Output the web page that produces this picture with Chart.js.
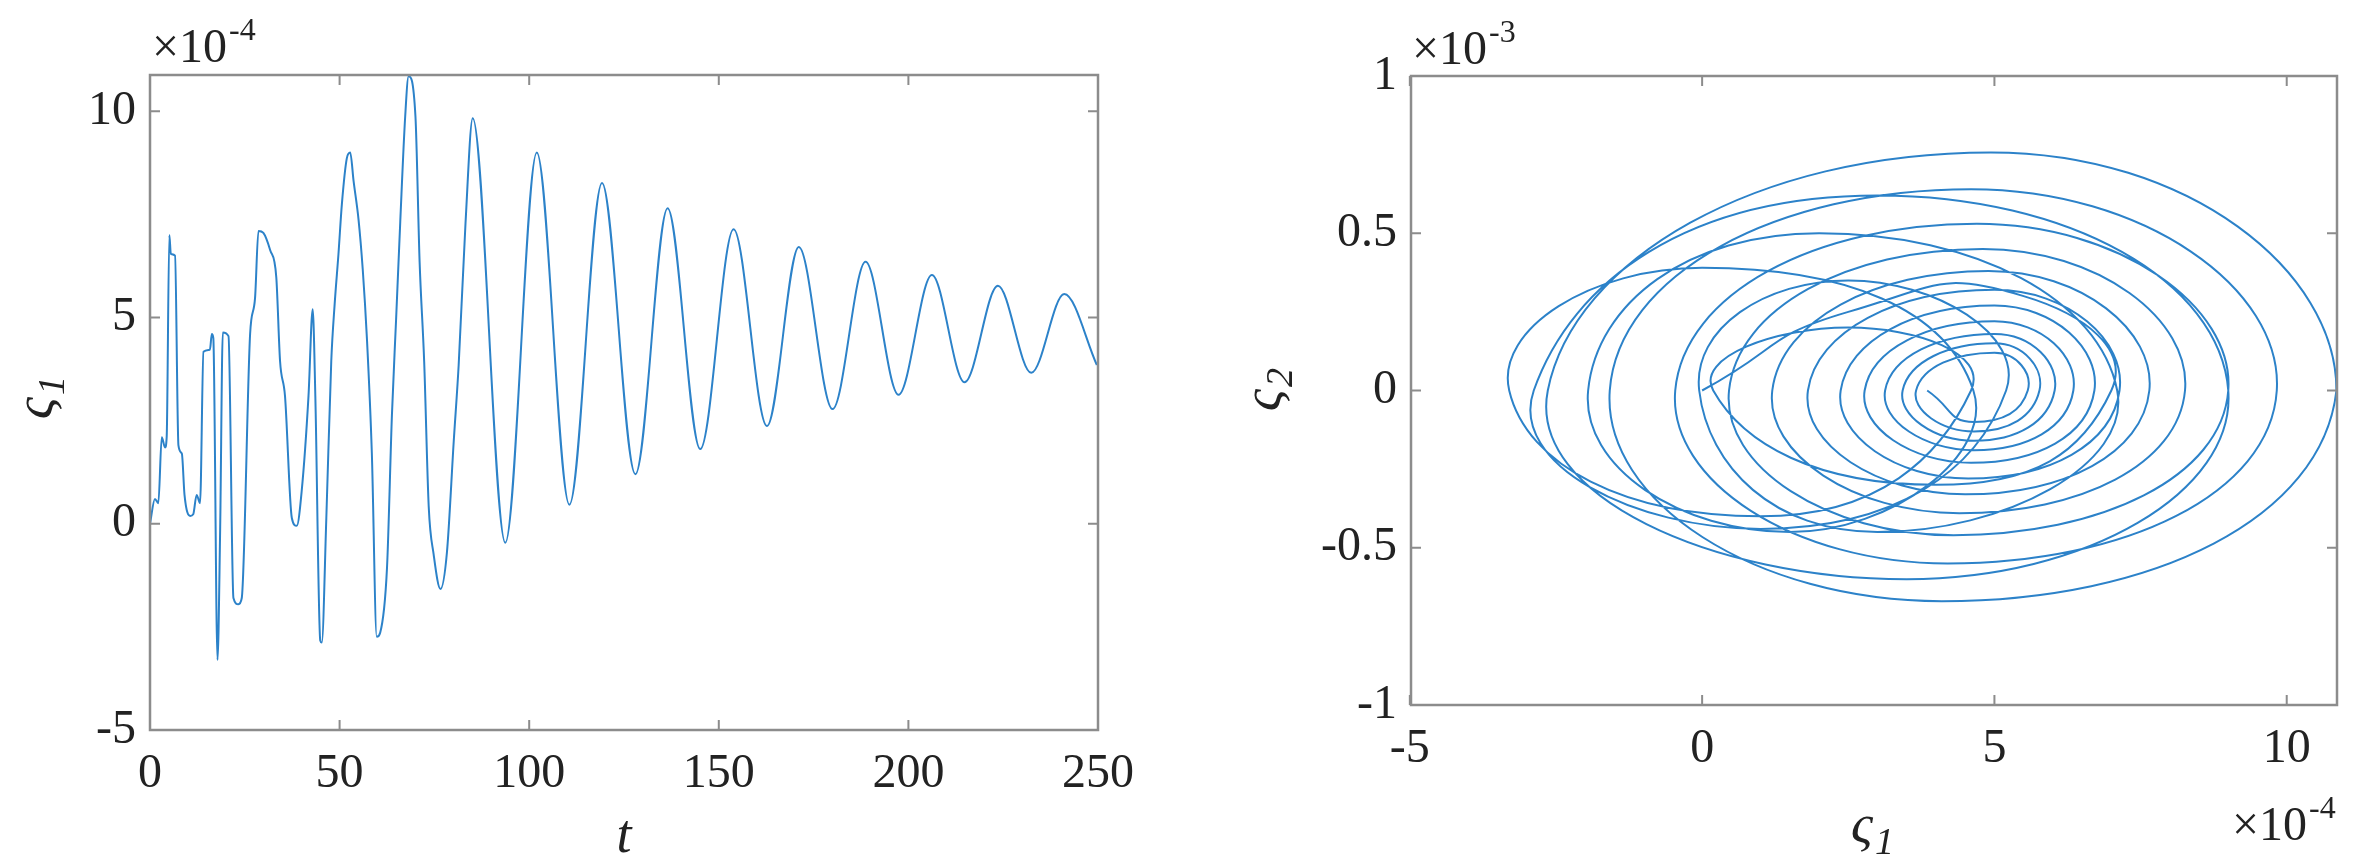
<!DOCTYPE html>
<html>
<head>
<meta charset="utf-8">
<style>
  body { margin: 0; background: #fff; width: 2365px; height: 866px; overflow: hidden; font-family: "Liberation Serif", serif; }
  .box { position: absolute; top: 0; height: 866px; }
  #left { left: 0; width: 1180px; }
  #right { left: 1180px; width: 1185px; }
  .pre { position: absolute; left: -9999px; font-family: "Liberation Serif"; }
</style>
</head>
<body>
<span class="pre">0123 <i>ς t</i></span>
<div class="box" id="left"><canvas id="c1"></canvas></div>
<div class="box" id="right"><canvas id="c2"></canvas></div>
<script src="https://cdn.jsdelivr.net/npm/chart.js@4.4.0/dist/chart.umd.min.js"></script>
<script>
// time history, t and ς1 (x1e-4)
const tValues = [0, 1.3, 2.2, 3.1, 3.96, 4.4, 5.1, 5.5, 6.6, 7.5, 8.4, 9.1, 10.6, 11.4, 12.3, 13.2, 14.1, 15.8, 16.3, 16.7,
  17.8, 18.5, 19.2, 20.7, 22.0, 23.3, 24.2, 26.4, 27.7, 28.6, 29.9, 31.7, 33.3, 34.3, 35.6, 37.4, 38.7, 40.0, 41.8, 42.9,
  43.6, 44.9, 45.3, 46.5, 47.8, 48.7, 49.7, 50.6, 51.9, 52.8, 53.7, 55.0, 56.1, 57.2, 58.5, 59.8, 60.7, 62.5, 63.8, 64.9,
  66.0, 67.3, 68.2, 70.0, 71.1, 72.3, 73.5, 74.8, 76.6, 78.3, 80.1, 81.4, 83.2, 85.1, 93.7, 102.0, 110.6, 119.2, 128.0,
  136.5, 145.1, 153.9, 162.7, 171.1, 180.0, 188.7, 197.4, 206.2, 214.8, 223.6, 232.4, 241.1, 249.7];
const s1Values = [0, 0.6, 0.5, 2.1, 1.85, 2.1, 7.0, 6.54, 6.5, 1.9, 1.7, 0.7, 0.19, 0.23, 0.7, 0.5, 4.17, 4.22, 4.6, 4.5,
  -3.3, -0.14, 4.64, 4.55, -1.8, -1.95, -1.8, 4.6, 5.47, 7.1, 7.05, 6.63, 5.98, 3.94, 3.1, 0.14, -0.05, 0.79, 3.1, 5.2,
  3.1, -2.83, -2.88, 0.14, 3.94, 5.33, 6.54, 7.75, 8.86, 9.0, 8.3, 7.37, 6.17, 4.5, 1.72, -2.74, -2.64, -1.07, 2.64, 4.96,
  7.33, 9.88, 10.85, 9.88, 6.35, 3.94, 0.42, -0.74, -1.58, -0.7, 2.0, 3.85, 7.28, 9.83, -0.46, 9.0, 0.46, 8.26, 1.2,
  7.65, 1.81, 7.14, 2.37, 6.71, 2.78, 6.35, 3.13, 6.03, 3.43, 5.77, 3.66, 5.57, 3.85];

// phase portrait, ς1 (x1e-4) and ς2 (x1e-3)
const phaseX = [0, 2.5, 5.5, 7.0, 4, 0.19, 2.5, 4.6, 1, -3.3, 0, 4.64, 1.5, -1.95, 2, 7.1, 3, -0.05, 2.5, 5.2, 1, -2.88,
  3, 9.0, 3.5, -2.64, 4.94, 10.85, 4.1, -1.58, 4.6, 9.83, 4.2, -0.46, 4.7, 9.0, 4.3, 0.46, 4.8, 8.26, 4.4, 1.2, 4.9, 7.65,
  4.5, 1.81, 5.0, 7.14, 4.55, 2.37, 5.0, 6.71, 4.6, 2.78, 5.0, 6.35, 4.65, 3.13, 5.0, 6.03, 4.65, 3.43, 5.0, 5.77, 4.65,
  3.66, 5.0, 5.57, 4.65, 3.85];
const phaseY = [0, 0.25, 0.3, 0, -0.3, 0, 0.2, 0, -0.4, 0, 0.39, 0, -0.45, 0, 0.5, 0, -0.45, 0, 0.35, 0, -0.44, 0,
  0.62, 0, -0.6, 0, 0.757, 0, -0.67, 0, 0.64, 0, -0.55, 0, 0.53, 0, -0.46, 0, 0.45, 0, -0.39, 0, 0.38, 0,
  -0.33, 0, 0.32, 0, -0.28, 0, 0.27, 0, -0.23, 0, 0.22, 0, -0.19, 0, 0.18, 0, -0.16, 0, 0.15, 0, -0.13,
  0, 0.12, 0, -0.10, 0];

const leftXTicks = [0, 50, 100, 150, 200, 250];
const leftYTicks = [-5, 0, 5, 10];
const rightXTicks = [-5, 0, 5, 10];
const rightYTicks = [-1, -0.5, 0, 0.5, 1];

const LINE = '#2c82c9';
const AXIS = '#8c8c8c';
const FONT = '"Liberation Serif"';

function fixed(ticks) {
  return function (scale) {
    scale.ticks = ticks.map(v => ({ value: v }));
  };
}

// box, inward ticks, tick labels and axis labels drawn over the chart
function frame(opts) {
  return {
    id: 'frame',
    afterDraw(chart) {
      const { ctx, chartArea: a, scales } = chart;
      ctx.save();
      ctx.strokeStyle = AXIS;
      ctx.lineWidth = 2.5;
      ctx.strokeRect(a.left, a.top, a.right - a.left, a.bottom - a.top);
      ctx.lineWidth = 2;
      ctx.fillStyle = '#222';
      ctx.font = '48px ' + FONT;
      const len = 10;
      opts.xTicks.forEach(v => {
        const px = scales.x.getPixelForValue(v);
        ctx.beginPath();
        ctx.moveTo(px, a.bottom); ctx.lineTo(px, a.bottom - len);
        ctx.moveTo(px, a.top); ctx.lineTo(px, a.top + len);
        ctx.stroke();
        ctx.textAlign = 'center';
        ctx.textBaseline = 'top';
        ctx.fillText(String(v), px, a.bottom + 20);
      });
      opts.yTicks.forEach(v => {
        const py = scales.y.getPixelForValue(v);
        ctx.beginPath();
        ctx.moveTo(a.left, py); ctx.lineTo(a.left + len, py);
        ctx.moveTo(a.right, py); ctx.lineTo(a.right - len, py);
        ctx.stroke();
        ctx.textAlign = 'right';
        ctx.textBaseline = 'middle';
        ctx.fillText(String(v), a.left - 14, py);
      });
      opts.texts.forEach(tx => drawText(ctx, tx));
      ctx.restore();
    }
  };
}

function drawText(ctx, tx) {
  ctx.save();
  ctx.translate(tx.x, tx.y);
  if (tx.rot) ctx.rotate(tx.rot);
  ctx.textBaseline = 'alphabetic';
  ctx.textAlign = 'left';
  if (tx.kind === 'exp') {
    ctx.font = '48px ' + FONT;
    ctx.fillText('\u00d710', 0, 0);
    const w = ctx.measureText('\u00d710').width;
    ctx.font = '32px ' + FONT;
    ctx.fillText(tx.p, w + 2, -22);
  } else if (tx.kind === 'sym') {
    ctx.font = 'italic 54px ' + FONT;
    const w = ctx.measureText('\u03c2').width;
    ctx.fillText('\u03c2', -w / 2 - 8, 0);
    ctx.font = 'italic 38px ' + FONT;
    ctx.fillText(tx.sub, w / 2 - 6, 12);
  } else {
    ctx.font = 'italic 54px ' + FONT;
    ctx.textAlign = 'center';
    ctx.fillText(tx.text, 0, 0);
  }
  ctx.restore();
}

function axisOpts(min, max, ticks, isX) {
  return {
    type: 'linear', min, max,
    afterBuildTicks: fixed(ticks),
    afterFit(s) { if (isX) s.height = 0; else s.width = 0; },
    grid: { display: false, drawTicks: false },
    border: { display: false },
    ticks: { display: false }
  };
}

Chart.defaults.animation = false;

function build() {
  new Chart(document.getElementById('c1'), {
    type: 'line',
    data: {
      datasets: [{
        data: tValues.map((t, i) => ({ x: t, y: s1Values[i] })),
        borderColor: LINE, borderWidth: 2, pointRadius: 0,
        cubicInterpolationMode: 'monotone'
      }]
    },
    options: {
      responsive: true, maintainAspectRatio: false,
      layout: { padding: { left: 150, top: 75, right: 82, bottom: 136 } },
      plugins: { legend: { display: false }, tooltip: { enabled: false } },
      scales: { x: axisOpts(0, 250, leftXTicks, true), y: axisOpts(-5, 10.88, leftYTicks, false) }
    },
    plugins: [frame({ xTicks: leftXTicks, yTicks: leftYTicks, texts: [
      { kind: 'exp', x: 152, y: 62, p: '-4' },
      { kind: 'sym', x: 52, y: 400, rot: -Math.PI / 2, sub: '1' },
      { kind: 't', x: 624, y: 852, text: 't' }
    ] })]
  });

  new Chart(document.getElementById('c2'), {
    type: 'scatter',
    data: {
      datasets: [{
        data: phaseX.map((x, i) => ({ x, y: phaseY[i] })),
        showLine: true, tension: 0.55,
        borderColor: LINE, borderWidth: 2, pointRadius: 0
      }]
    },
    options: {
      responsive: true, maintainAspectRatio: false,
      layout: { padding: { left: 231, top: 76, right: 28, bottom: 161 } },
      plugins: { legend: { display: false }, tooltip: { enabled: false } },
      scales: { x: axisOpts(-4.98, 10.86, rightXTicks, true), y: axisOpts(-1, 1, rightYTicks, false) }
    },
    plugins: [frame({ xTicks: rightXTicks, yTicks: rightYTicks, texts: [
      { kind: 'exp', x: 232, y: 64, p: '-3' },
      { kind: 'sym', x: 100, y: 392, rot: -Math.PI / 2, sub: '2' },
      { kind: 'sym', x: 690, y: 842, sub: '1' },
      { kind: 'exp', x: 1052, y: 840, p: '-4' }
    ] })]
  });
}

Promise.all([
  document.fonts.load('48px "Liberation Serif"'),
  document.fonts.load('italic 54px "Liberation Serif"')
]).then(build, build);
</script>
</body>
</html>
